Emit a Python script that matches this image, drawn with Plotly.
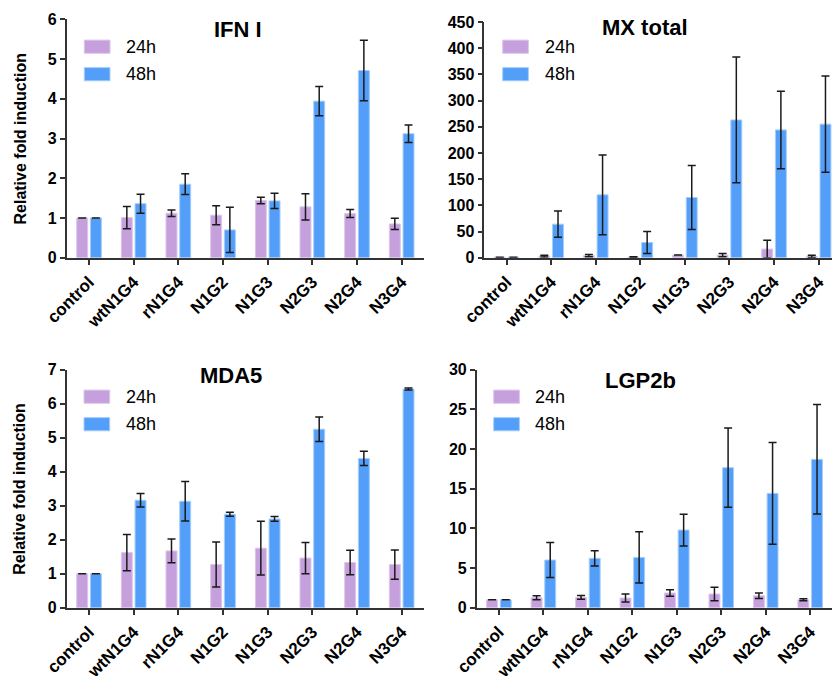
import plotly.graph_objects as go

categories = ["control", "wtN1G4", "rN1G4", "N1G2", "N1G3", "N2G3", "N2G4", "N3G4"]
series_names = ["24h", "48h"]

ifn_24 = [1.0, 1.01, 1.12, 1.07, 1.44, 1.28, 1.11, 0.85]
ifn_24_err = [None, 0.28, 0.08, 0.24, 0.08, 0.33, 0.10, 0.14]
ifn_48 = [1.0, 1.36, 1.85, 0.70, 1.43, 3.94, 4.71, 3.12]
ifn_48_err = [None, 0.24, 0.26, 0.57, 0.19, 0.37, 0.76, 0.22]

mx_24 = [1, 3, 4, 1.5, 5, 5, 16.5, 2.5]
mx_24_err = [None, 1.5, 2, 0.5, None, 3, 17, 2]
mx_48 = [1, 64, 120, 29, 115, 263, 244, 255]
mx_48_err = [None, 25, 76, 21, 61, 120, 74, 92]

mda_24 = [1.0, 1.62, 1.67, 1.27, 1.75, 1.46, 1.33, 1.27]
mda_24_err = [None, 0.53, 0.35, 0.66, 0.79, 0.46, 0.36, 0.43]
mda_48 = [1.0, 3.16, 3.13, 2.75, 2.61, 5.25, 4.39, 6.43]
mda_48_err = [None, 0.20, 0.58, 0.06, 0.07, 0.36, 0.21, 0.03]

lgp_24 = [1.0, 1.26, 1.30, 1.22, 1.85, 1.72, 1.51, 1.0]
lgp_24_err = [None, 0.25, 0.25, 0.5, 0.4, 0.85, 0.35, 0.13]
lgp_48 = [1.0, 6.01, 6.22, 6.34, 9.79, 17.65, 14.41, 18.7]
lgp_48_err = [None, 2.2, 0.97, 3.24, 2.0, 5.0, 6.4, 6.9]

titles = ["IFN I", "MX total", "MDA5", "LGP2b"]
y_title = "Relative fold induction"
y_ticks = [list(range(0, 7)), list(range(0, 451, 50)), list(range(0, 8)), list(range(0, 31, 5))]
y_ranges = [[0, 6], [0, 450], [0, 7], [0, 30]]

W, H = 832, 676
FONT = "Arial, 'Liberation Sans', sans-serif"
C24, C24L = "#C5A0DC", "#DCC6EA"
C48, C48L = "#529EF8", "#A6CEFB"
AX = "#333333"


def px(x):
    return x / W


def py(y):
    return 1 - y / H


panels = [
    dict(d24=ifn_24, e24=ifn_24_err, d48=ifn_48, e48=ifn_48_err,
         xd=[66.7, 424], yd=[257.7, 19.3], xr=[-0.5, 7.5],
         title_xy=(238, 29), leg=(84.3, 124.3, 46.7), ytitle=True),
    dict(d24=mx_24, e24=mx_24_err, d48=mx_48, e48=mx_48_err,
         xd=[484.3, 832], yd=[257.7, 22], xr=[-0.5, 7.30],
         title_xy=(644.5, 28), leg=(502.7, 542.7, 46.7), ytitle=False),
    dict(d24=mda_24, e24=mda_24_err, d48=mda_48, e48=mda_48_err,
         xd=[66.7, 424], yd=[607.7, 369.7], xr=[-0.5, 7.5],
         title_xy=(231.3, 375), leg=(84.0, 124.0, 396.7), ytitle=True),
    dict(d24=lgp_24, e24=lgp_24_err, d48=lgp_48, e48=lgp_48_err,
         xd=[476.7, 832], yd=[607.7, 369.7], xr=[-0.5, 7.49],
         title_xy=(640.3, 380), leg=(493.7, 533.3, 396.7), ytitle=False),
]

fig = go.Figure()
shapes = []
annotations = []
layout = {}

for i, p in enumerate(panels):
    n = "" if i == 0 else str(i + 1)
    xa, ya = "x" + n, "y" + n
    for vals, errs, col, lcol, name in [(p["d24"], p["e24"], C24, C24L, series_names[0]),
                                         (p["d48"], p["e48"], C48, C48L, series_names[1])]:
        fig.add_trace(go.Bar(
            x=categories, y=vals, name=name, xaxis=xa, yaxis=ya, showlegend=False,
            marker=dict(color=col, line=dict(color=lcol, width=1)),
            error_y=dict(type="data", array=errs, visible=True, symmetric=True,
                         color="#1a1a1a", thickness=1.5, width=4),
        ))
    layout["xaxis" + n] = dict(
        domain=[px(p["xd"][0]), px(p["xd"][1])], anchor=ya, range=p["xr"],
        showline=True, linecolor=AX, linewidth=1.5, ticks="outside", ticklen=6,
        tickwidth=1.5, tickcolor=AX, tickangle=-45, showgrid=False, zeroline=False,
        tickfont=dict(family=FONT, size=17, color="#000", weight="bold"),
        type="category", fixedrange=True, automargin=False,
    )
    layout["yaxis" + n] = dict(
        domain=[py(p["yd"][0]), py(p["yd"][1])], anchor=xa, range=y_ranges[i],
        tickvals=y_ticks[i], showline=True, linecolor=AX, linewidth=1.5, ticks="outside",
        ticklen=5, tickwidth=1.5, tickcolor=AX, showgrid=False, zeroline=False,
        tickfont=dict(family=FONT, size=16, color="#000", weight="bold"), fixedrange=True,
        automargin=False,
    )
    # title
    tx, ty = p["title_xy"]
    annotations.append(dict(text=titles[i], x=px(tx), y=py(ty), xref="paper", yref="paper",
                            xanchor="center", yanchor="middle", showarrow=False,
                            font=dict(family=FONT, size=22, color="#000", weight="bold")))
    # legend (manual)
    sx, tx2, sy = p["leg"]
    for k, (col, lcol) in enumerate([(C24, C24L), (C48, C48L)]):
        cy = sy + k * 27.5
        shapes.append(dict(type="rect", xref="paper", yref="paper",
                           x0=px(sx), x1=px(sx + 25.7), y0=py(cy - 6.6), y1=py(cy + 6.6),
                           fillcolor=col, line=dict(color=lcol, width=1)))
        annotations.append(dict(text=series_names[k], x=px(tx2), y=py(cy), xref="paper", yref="paper",
                                xanchor="left", yanchor="middle", showarrow=False,
                                font=dict(family=FONT, size=18, color="#000")))
    if p["ytitle"]:
        annotations.append(dict(text=y_title, x=px(20), y=py((p["yd"][0] + p["yd"][1]) / 2),
                                xref="paper", yref="paper", xanchor="center", yanchor="middle",
                                textangle=-90, showarrow=False,
                                font=dict(family=FONT, size=16, color="#000", weight="bold")))

fig.update_layout(
    template="none",
    width=W, height=H, margin=dict(l=0, r=0, t=0, b=0, autoexpand=False),
    paper_bgcolor="white", plot_bgcolor="white",
    barmode="group", bargap=0.386, bargroupgap=0.2,
    shapes=shapes, annotations=annotations, showlegend=False,
    **layout,
)

fig.write_html("out.html", config={"displayModeBar": False},
               post_script="document.body.style.margin='0';document.body.style.overflow='hidden';")
